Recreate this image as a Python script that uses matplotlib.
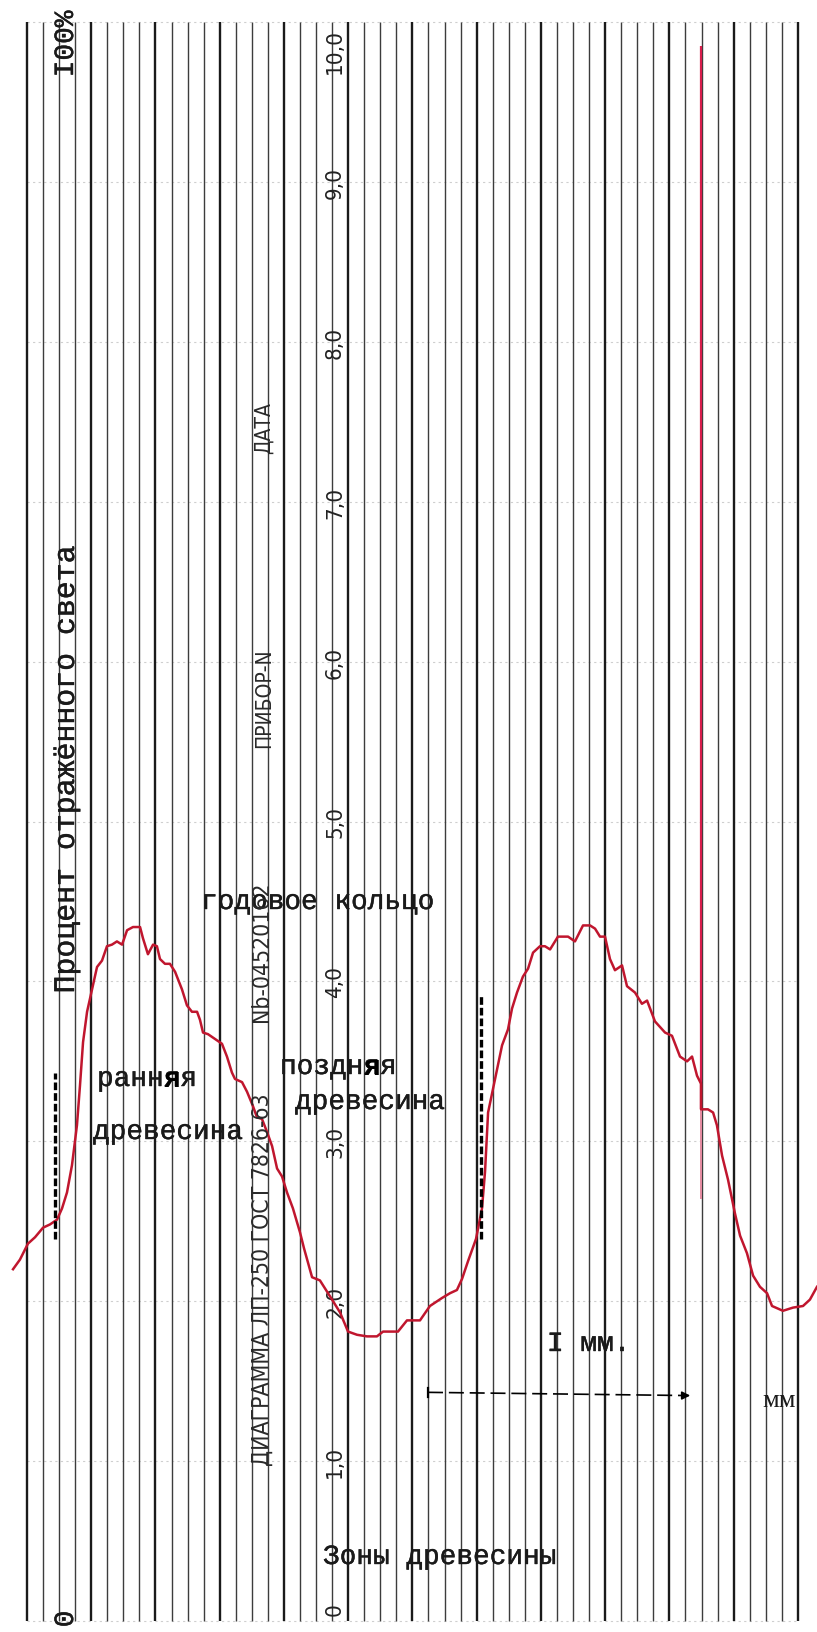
import matplotlib.pyplot as plt
import matplotlib.patheffects as pe

# chart paper: 48 divisions across, 0..100 % up the sheet
divisions = list(range(0, 49))
scale_pct = [0, 10, 20, 30, 40, 50, 60, 70, 80, 90, 100]
scale_labels = ['0', '1,0', '2,0', '3,0', '4,0', '5,0', '6,0', '7,0', '8,0', '9,0', '10,0']

# red trace (x in paper divisions, y in %)
trace_x = [-0.87, -0.44, 0.06, 0.50, 1.00, 1.43, 1.87, 2.18, 2.49, 2.80,
           3.11, 3.30, 3.49, 3.74, 4.05, 4.36, 4.67, 4.98, 5.29, 5.60,
           5.92, 6.23, 6.60, 7.04, 7.22, 7.53, 7.85, 8.09, 8.28, 8.59,
           8.90, 9.22, 9.65, 9.96, 10.27, 10.59, 10.77, 10.96, 11.27, 11.71,
           12.14, 12.45, 12.76, 12.95, 13.39, 13.70, 14.07, 14.32, 14.63, 14.94,
           15.26, 15.57, 15.88, 16.19, 16.56, 17.00, 17.25, 17.75, 18.24, 18.87,
           19.49, 19.99, 20.55, 21.17, 21.79, 22.17, 23.10, 23.66, 24.47, 25.09,
           25.84, 26.34, 26.77, 27.09, 27.46, 27.96, 28.33, 28.52, 28.71, 29.02,
           29.27, 29.58, 29.95, 30.20, 30.51, 30.88, 31.20, 31.51, 31.94, 32.25,
           32.57, 33.06, 33.69, 34.12, 34.62, 35.06, 35.37, 35.68, 35.99, 36.30,
           36.61, 37.05, 37.36, 37.86, 38.29, 38.61, 39.10, 39.73, 40.16, 40.66,
           41.10, 41.41, 41.72, 41.97, 41.97, 42.40, 42.72, 42.96, 43.28, 43.65,
           44.08, 44.40, 44.83, 45.21, 45.64, 46.08, 46.39, 47.07, 47.70, 48.32,
           48.75, 49.19]
trace_y = [22.0, 22.6, 23.6, 24.0, 24.6, 24.8, 25.1, 25.8, 26.8, 28.5,
           31.0, 33.5, 36.2, 38.1, 39.5, 40.9, 41.3, 42.2, 42.3, 42.5,
           42.3, 43.2, 43.4, 43.4, 42.7, 41.7, 42.3, 42.2, 41.4, 41.1,
           41.1, 40.6, 39.5, 38.5, 38.1, 38.1, 37.6, 36.8, 36.7, 36.4,
           36.1, 35.3, 34.3, 33.9, 33.7, 33.1, 32.2, 31.5, 31.4, 30.6,
           29.7, 28.3, 27.8, 26.8, 25.8, 24.3, 23.3, 21.5, 21.3, 20.3,
           19.3, 18.1, 17.9, 17.8, 17.8, 18.1, 18.1, 18.8, 18.8, 19.7,
           20.2, 20.5, 20.7, 21.4, 22.5, 23.9, 25.8, 28.1, 31.8, 33.3,
           34.5, 36.0, 37.0, 38.3, 39.3, 40.3, 40.8, 41.8, 42.2, 42.2,
           42.0, 42.8, 42.8, 42.5, 43.5, 43.5, 43.3, 42.8, 42.8, 41.4,
           40.7, 41.0, 39.7, 39.3, 38.6, 38.8, 37.5, 36.8, 36.6, 35.3,
           35.0, 35.3, 34.1, 33.6, 32.0, 32.0, 31.8, 31.0, 29.1, 27.6,
           25.5, 24.1, 23.0, 21.6, 20.9, 20.5, 19.7, 19.4, 19.6, 19.7,
           20.1, 20.9]

# vertical red pen mark
pen_x = 41.97
pen_span = (32.0, 98.5)
pen_faint = (26.4, 32.0)

# black dashed ring-boundary markers
marker_x = [1.77, 28.30]
marker_lo = [23.9, 23.9]
marker_hi = [34.3, 39.2]

# 1 mm scale arrow
mm_start = (24.97, 14.3)
mm_end = (41.47, 14.1)

W, H = 817, 1633
fig = plt.figure(figsize=(W / 100, H / 100), dpi=100)
ax = fig.add_axes([0, 0, 1, 1])
ax.set_xlim(-27 / 16.06, 790 / 16.06)
ax.set_ylim(-11 / 15.99, 1622 / 15.99)
ax.axis('off')


def fx(px):
    return px / W


def fy(py):
    return 1 - py / H


# faint horizontal rulings
for p in scale_pct:
    ax.plot([0, 48], [p, p], color='#cfcfcf', lw=0.8, ls=(0, (2, 3)), zorder=1)

# vertical rulings, every 4th heavier
for d in divisions:
    if d % 4 == 0:
        ax.vlines(d, 0, 100, color='#1a1a1a', lw=1.7, zorder=2)
    else:
        ax.vlines(d, 0, 100, color='#3c3c3c', lw=1.0, zorder=2)

# scale numbers
for p, lab in zip(scale_pct, scale_labels):
    yp = min(max(p, 0.75), 98.2)
    ax.text(19.18, yp, lab, rotation=90, ha='center', va='center',
            fontsize=16, family='DejaVu Sans', fontstretch='condensed',
            color='#222222', zorder=3)

# pen line
ax.vlines(pen_x, *pen_span, color='#d81e4c', lw=1.6, zorder=4)
ax.vlines(pen_x, *pen_faint, color='#e58aa0', lw=1.4, zorder=4)

# trace
ax.plot(trace_x, trace_y, color='#c0162e', lw=1.8, zorder=5)

# dashed markers
for mx, lo, hi in zip(marker_x, marker_lo, marker_hi):
    ax.plot([mx, mx], [lo, hi], color='black', lw=2.4,
            dashes=(2.3, 0.9), zorder=6)

# 1 mm arrow
ax.plot([mm_start[0], mm_end[0] - 0.4], [mm_start[1], mm_end[1]],
        color='black', lw=1.2, dashes=(9, 3.5), zorder=6)
ax.annotate('', xy=mm_end, xytext=(mm_end[0] - 0.8, mm_end[1]),
            arrowprops=dict(arrowstyle='-|>', color='black', lw=1.2,
                            mutation_scale=12), zorder=6)
ax.plot([mm_start[0], mm_start[0]], [mm_start[1] - 0.3, mm_start[1] + 0.3],
        color='black', lw=1.6, zorder=6)

mono = 'Liberation Mono'
tc = '#1a1a1a'
ink = [pe.withStroke(linewidth=0.3, foreground=tc)]

fig.text(fx(66), fy(45), 'I00%', rotation=90, ha='center', va='center',
         fontsize=20, family=mono, color=tc, path_effects=ink)
fig.text(fx(66), fy(1620), '0', rotation=90, ha='center', va='center',
         fontsize=20, family=mono, color=tc, path_effects=ink)
fig.text(fx(66), fy(771), 'Процент отражённого света', rotation=90,
         ha='center', va='center', fontsize=21.5, family=mono, color=tc,
         path_effects=ink)

fig.text(fx(201), fy(910), 'годовое кольцо', ha='left', va='baseline',
         fontsize=20, family=mono, color=tc, path_effects=ink)
fig.text(fx(97), fy(1087), 'ранняя', ha='left', va='baseline',
         fontsize=20, family=mono, color=tc, path_effects=ink)
fig.text(fx(97 + 4 * 16.67), fy(1087), 'я', ha='left', va='baseline',
         fontsize=20, family=mono, weight='bold', color='black')
fig.text(fx(93), fy(1140), 'древесина', ha='left', va='baseline',
         fontsize=20, family=mono, color=tc, path_effects=ink)
fig.text(fx(280), fy(1075), 'поздняя', ha='left', va='baseline',
         fontsize=20, family=mono, color=tc, path_effects=ink)
fig.text(fx(280 + 5 * 16.67), fy(1075), 'я', ha='left', va='baseline',
         fontsize=20, family=mono, weight='bold', color='black')
fig.text(fx(295), fy(1110), 'древесина', ha='left', va='baseline',
         fontsize=20, family=mono, color=tc, path_effects=ink)
fig.text(fx(323), fy(1565), 'Зоны древесины', ha='left', va='baseline',
         fontsize=20, family=mono, color=tc, path_effects=ink)
fig.text(fx(547), fy(1352), 'I мм.', ha='left', va='baseline',
         fontsize=20, family=mono, color=tc, path_effects=ink)
fig.text(fx(762), fy(1407), 'мм', ha='left', va='baseline',
         fontsize=19, family='Liberation Serif', color=tc)

# printed form captions along the sheet
form = dict(rotation=90, ha='center', va='center',
            family='DejaVu Sans', fontstretch='condensed', color='#2a2a2a')
fig.text(fx(262), fy(1280), 'ДИАГРАММА ЛП-250 ГОСТ 7826-63', fontsize=16.5, **form)
fig.text(fx(262), fy(952), 'Nb-04520162', fontsize=16.5, **form)
fig.text(fx(264), fy(698), 'ПРИБОР-N', fontsize=15, **form)
fig.text(fx(264), fy(428), 'ДАТА', fontsize=15, **form)

fig.savefig('out.png', dpi=100, facecolor='white')
